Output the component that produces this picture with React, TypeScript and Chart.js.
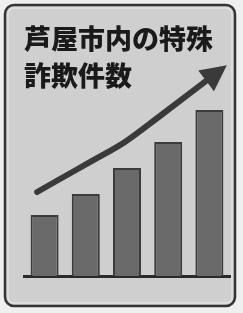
import React, { useEffect, useRef } from "react";
import { Chart, registerables } from "chart.js";

Chart.register(...registerables);

const titleLines = ["芦屋市内の特殊", "詐欺件数"];
const categories = ["1", "2", "3", "4", "5"];
const barValues = [61, 82, 108, 134, 166];
const arrowX = [0.82, 1.33, 2.15, 2.95, 3.8, 4.92];
const arrowY = [84, 96, 115, 134, 160, 195];

const framePlugin = {
  id: "frame",
  beforeDraw(chart: any) {
    const { ctx, width, height } = chart;
    ctx.save();
    ctx.fillStyle = "#efefef";
    ctx.fillRect(0, 0, width, height);
    const x = 5, y = 5, w = width - 9, h = height - 9, r = 9;
    ctx.beginPath();
    ctx.roundRect(x, y, w - 4, h - 3, r);
    ctx.fillStyle = "#cfcfcf";
    ctx.fill();
    ctx.lineWidth = 2.5;
    ctx.strokeStyle = "#333333";
    ctx.stroke();
    ctx.beginPath();
    ctx.roundRect(x + 3, y + 3, w - 10, h - 9, r - 3);
    ctx.lineWidth = 1.5;
    ctx.strokeStyle = "#e2e2e2";
    ctx.stroke();
    ctx.restore();
  },
};

const arrowHeadPlugin = {
  id: "arrowHead",
  afterDatasetsDraw(chart: any) {
    const meta = chart.getDatasetMeta(1);
    const pts = meta.data;
    if (!pts || pts.length < 2) return;
    const last = pts[pts.length - 1];
    const prev = pts[pts.length - 2];
    let dx = last.x - (last.cp1x ?? prev.x);
    let dy = last.y - (last.cp1y ?? prev.y);
    if (!isFinite(dx) || !isFinite(dy) || (dx === 0 && dy === 0)) {
      dx = last.x - prev.x;
      dy = last.y - prev.y;
    }
    const len = Math.hypot(dx, dy) || 1;
    const ux = dx / len, uy = dy / len;
    const px = -uy, py = ux;
    const headLen = 26, half = 13;
    const { ctx } = chart;
    ctx.save();
    ctx.beginPath();
    ctx.moveTo(last.x + ux * headLen, last.y + uy * headLen);
    ctx.lineTo(last.x + px * half, last.y + py * half);
    ctx.lineTo(last.x - px * half, last.y - py * half);
    ctx.closePath();
    ctx.fillStyle = "#3a3a3a";
    ctx.fill();
    ctx.restore();
  },
};

export default function App() {
  const ref = useRef<HTMLCanvasElement>(null);
  useEffect(() => {
    document.body.style.margin = "0";
    const chart = new Chart(ref.current as HTMLCanvasElement, {
      type: "bar",
      data: {
        labels: categories,
        datasets: [
          {
            type: "bar",
            data: barValues,
            backgroundColor: "#6a6a6a",
            borderColor: "#3c3c3c",
            borderWidth: 2,
            grouped: false,
            categoryPercentage: 1,
            barPercentage: 0.68,
            xAxisID: "x",
            yAxisID: "y",
          } as any,
          {
            type: "line",
            data: arrowX.map((x, i) => ({ x, y: arrowY[i] })),
            borderColor: "#3a3a3a",
            borderWidth: 6,
            borderCapStyle: "round",
            pointRadius: 0,
            cubicInterpolationMode: "monotone",
            clip: false,
            xAxisID: "x2",
            yAxisID: "y",
          } as any,
        ],
      },
      options: {
        responsive: false,
        animation: false,
        layout: { padding: { left: 24, right: 13, top: 0, bottom: 37 } },
        plugins: {
          legend: { display: false },
          tooltip: { enabled: false },
          title: {
            display: true,
            text: titleLines,
            align: "start",
            color: "#1a1a1a",
            font: {
              family: "'Noto Sans CJK JP', 'Noto Sans', sans-serif",
              size: 27,
              weight: 900,
              lineHeight: 1.37,
            },
            padding: { top: 20, bottom: 6 },
          },
        },
        scales: {
          x: {
            type: "category",
            offset: true,
            grid: { display: false, drawTicks: false },
            ticks: { display: false },
            border: { display: true, color: "#2a2a2a", width: 3 },
          },
          x2: {
            type: "linear",
            display: false,
            offset: false,
            grid: { offset: false },
            min: 0.5,
            max: 5.5,
          },
          y: {
            display: false,
            min: 0,
            max: 176,
          },
        },
      } as any,
      plugins: [framePlugin, arrowHeadPlugin],
    });
    return () => chart.destroy();
  }, []);
  return (
    <div style={{ width: 243, height: 313 }}>
      <canvas ref={ref} width={243} height={313} style={{ display: "block" }} />
    </div>
  );
}
